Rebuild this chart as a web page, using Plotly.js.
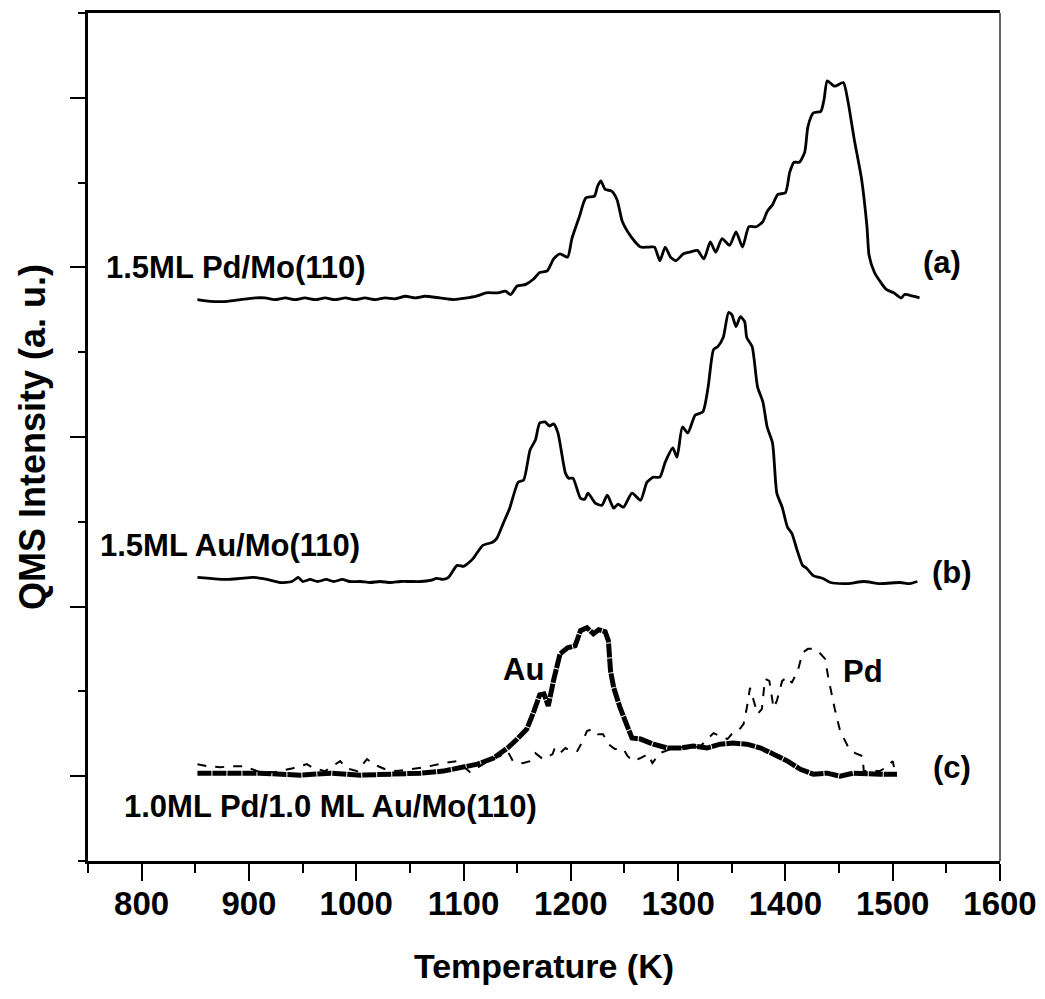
<!DOCTYPE html>
<html>
<head>
<meta charset="utf-8">
<script src="https://cdn.plot.ly/plotly-3.0.1.min.js"></script>
<style>html,body{margin:0;padding:0;background:#fff;}</style>
</head>
<body>
<div id="chart" style="width:1045px;height:999px;"></div>
<script>
// (a) 1.5ML Pd/Mo(110)
const tempA = [852,864,880,892,906,915,924,934,943,952,962,971,980,990,999,1008,1018,1027,1036,1046,1055,1064,1078,1091,1112,1121,1132,1139,1144,1150,1158,1165,1171,1178,1184,1190,1197,1201,1208,1214,1222,1225,1228,1232,1238,1243,1248,1253,1260,1265,1273,1278,1283,1288,1293,1298,1305,1311,1318,1324,1330,1335,1341,1348,1354,1360,1366,1373,1379,1383,1388,1393,1400,1404,1408,1413,1418,1421,1426,1433,1436,1439,1445,1447,1454,1458,1464,1471,1476,1478,1483,1488,1494,1501,1508,1511,1519,1525];
const intA = [2.81,2.80,2.80,2.81,2.82,2.82,2.81,2.82,2.81,2.82,2.81,2.82,2.81,2.82,2.81,2.82,2.81,2.82,2.815,2.83,2.82,2.83,2.82,2.81,2.83,2.85,2.85,2.86,2.84,2.89,2.90,2.93,2.97,2.98,3.05,3.08,3.06,3.17,3.30,3.41,3.42,3.48,3.51,3.46,3.45,3.40,3.27,3.21,3.15,3.12,3.12,3.12,3.04,3.12,3.06,3.04,3.08,3.09,3.10,3.05,3.15,3.09,3.17,3.13,3.21,3.12,3.24,3.24,3.27,3.33,3.37,3.43,3.44,3.56,3.62,3.62,3.68,3.83,3.91,3.92,3.99,4.10,4.07,4.07,4.09,3.99,3.76,3.52,3.24,3.07,2.97,2.92,2.87,2.85,2.82,2.84,2.83,2.82];

// (b) 1.5ML Au/Mo(110)
const tempB = [852,864,880,892,904,917,929,940,946,950,957,964,972,979,987,994,1004,1013,1022,1032,1041,1050,1060,1069,1075,1081,1086,1094,1100,1104,1109,1118,1127,1131,1137,1143,1151,1156,1162,1167,1171,1176,1180,1184,1188,1195,1198,1202,1209,1213,1216,1223,1229,1234,1240,1244,1249,1257,1265,1271,1277,1283,1288,1295,1299,1304,1309,1316,1323,1328,1333,1337,1342,1347,1350,1354,1358,1362,1364,1369,1374,1379,1383,1388,1392,1397,1402,1406,1411,1416,1420,1426,1435,1442,1458,1473,1488,1507,1516,1523];
const intB = [1.172,1.166,1.160,1.166,1.172,1.160,1.142,1.148,1.172,1.148,1.160,1.148,1.160,1.148,1.160,1.148,1.148,1.142,1.148,1.142,1.148,1.148,1.148,1.154,1.166,1.160,1.172,1.243,1.237,1.254,1.284,1.361,1.379,1.402,1.491,1.580,1.734,1.746,1.923,1.982,2.083,2.089,2.065,2.077,2.024,1.787,1.757,1.757,1.639,1.633,1.669,1.609,1.598,1.657,1.580,1.604,1.586,1.669,1.627,1.734,1.763,1.763,1.852,1.935,1.882,2.059,2.024,2.130,2.148,2.296,2.515,2.533,2.586,2.734,2.722,2.651,2.710,2.680,2.586,2.533,2.296,2.207,2.059,1.964,1.669,1.586,1.467,1.432,1.331,1.243,1.225,1.183,1.166,1.142,1.136,1.148,1.136,1.142,1.136,1.148];

// (c) 1.0ML Pd/1.0 ML Au/Mo(110): Au signal
const tempAu = [852,882,910,948,976,1004,1034,1060,1081,1097,1113,1128,1141,1150,1159,1165,1171,1175,1179,1184,1190,1197,1204,1209,1215,1221,1226,1232,1235,1237,1240,1246,1253,1257,1265,1277,1290,1302,1314,1327,1339,1351,1364,1377,1389,1402,1414,1426,1439,1451,1463,1476,1488,1504];
const intAu = [0.018,0.018,0.018,0.006,0.018,0.006,0.012,0.018,0.030,0.047,0.071,0.107,0.166,0.219,0.278,0.373,0.479,0.485,0.414,0.568,0.722,0.757,0.769,0.858,0.876,0.840,0.864,0.852,0.799,0.621,0.521,0.402,0.284,0.225,0.219,0.189,0.166,0.166,0.178,0.166,0.189,0.195,0.189,0.166,0.130,0.089,0.041,0.012,0.018,0.000,0.018,0.012,0.012,0.012];

// (c) Pd signal
const tempPd = [852,861,873,885,896,910,924,941,954,960,971,985,991,1001,1010,1016,1027,1038,1050,1064,1081,1094,1106,1115,1128,1134,1141,1146,1155,1162,1167,1174,1183,1185,1190,1195,1200,1206,1211,1215,1220,1225,1230,1235,1241,1249,1253,1258,1265,1272,1276,1283,1293,1302,1311,1321,1333,1339,1346,1350,1356,1361,1364,1367,1370,1374,1378,1381,1385,1389,1392,1397,1402,1406,1412,1416,1421,1426,1430,1433,1437,1440,1444,1446,1451,1459,1465,1472,1473,1479,1488,1494,1500,1502];
const intPd = [0.071,0.059,0.053,0.059,0.059,0.024,0.024,0.047,0.071,0.047,0.030,0.089,0.047,0.030,0.101,0.071,0.041,0.030,0.041,0.053,0.077,0.089,0.024,0.059,0.107,0.118,0.148,0.089,0.077,0.089,0.136,0.101,0.130,0.166,0.136,0.166,0.148,0.148,0.207,0.266,0.278,0.248,0.248,0.189,0.160,0.160,0.118,0.089,0.107,0.130,0.077,0.136,0.160,0.172,0.160,0.178,0.254,0.237,0.219,0.248,0.266,0.308,0.402,0.521,0.456,0.367,0.396,0.574,0.562,0.402,0.444,0.562,0.586,0.550,0.633,0.728,0.751,0.751,0.740,0.722,0.692,0.580,0.456,0.396,0.266,0.166,0.136,0.118,0.030,0.030,0.030,0.053,0.089,0.030];

const xTickVals = [800,900,1000,1100,1200,1300,1400,1500,1600];
const xTickText = ['800','900','1000','1100','1200','1300','1400','1500','1600'];
const yTickVals = [0,1,2,3,4];

const FONT = 'Liberation Sans, Arial, Helvetica, sans-serif';

const traces = [
  {x: tempA, y: intA, mode: 'lines', line: {color: '#000', width: 2.8, shape: 'spline', smoothing: 0.6}, hoverinfo: 'skip'},
  {x: tempB, y: intB, mode: 'lines', line: {color: '#000', width: 2.8, shape: 'spline', smoothing: 0.6}, hoverinfo: 'skip'},
  {x: tempAu, y: intAu, mode: 'lines', line: {color: '#000', width: 5, dash: '14px,1px'}, hoverinfo: 'skip'},
  {x: tempPd, y: intPd, mode: 'lines', line: {color: '#000', width: 2, dash: 'dash'}, hoverinfo: 'skip'}
];

function ann(text, x, y, xanchor, size) {
  return {text: text, x: x, y: y, xref: 'x', yref: 'y', xanchor: xanchor, yanchor: 'middle',
          showarrow: false, font: {family: FONT, size: size, color: '#000', weight: 'bold'}};
}

const layout = {
  width: 1045, height: 999,
  margin: {l: 88, r: 45, t: 13, b: 138},
  paper_bgcolor: '#fff', plot_bgcolor: '#fff',
  showlegend: false,
  font: {family: FONT, color: '#000'},
  xaxis: {
    range: [750, 1600], tickmode: 'array', tickvals: xTickVals, ticktext: xTickText,
    ticks: 'outside', ticklen: 17, tickwidth: 2, tickcolor: '#000',
    minor: {dtick: 50, tick0: 750, ticks: 'outside', ticklen: 9, tickwidth: 2, tickcolor: '#000', showgrid: false},
    showline: true, linewidth: 3, linecolor: '#000', mirror: true,
    showgrid: false, zeroline: false, ticklabelstandoff: -6,
    tickfont: {family: FONT, size: 33, weight: 'bold', color: '#000'},
    title: {text: 'Temperature (K)', font: {family: FONT, size: 34, weight: 'bold', color: '#000'}, standoff: 34}
  },
  yaxis: {
    range: [-0.5, 4.5], tickmode: 'array', tickvals: yTickVals, showticklabels: false,
    ticks: 'outside', ticklen: 15, tickwidth: 2, tickcolor: '#000',
    minor: {dtick: 0.5, tick0: 0, ticks: 'outside', ticklen: 7, tickwidth: 2, tickcolor: '#000', showgrid: false},
    showline: true, linewidth: 3, linecolor: '#000', mirror: false,
    showgrid: false, zeroline: false,
    title: {text: 'QMS Intensity (a. u.)', font: {family: FONT, size: 36, weight: 'bold', color: '#000'}, standoff: 14}
  },
  shapes: [
    {type: 'line', xref: 'paper', yref: 'paper', x0: 1, x1: 1, y0: 0, y1: 1, line: {color: '#333', width: 1.5}}
  ],
  annotations: [
    ann('1.5ML Pd/Mo(110)', 765, 3.00, 'left', 31),
    ann('(a)', 1546, 3.03, 'center', 31),
    ann('1.5ML Au/Mo(110)', 759, 1.36, 'left', 31),
    ann('(b)', 1555, 1.20, 'center', 31),
    ann('Au', 1156, 0.63, 'center', 31),
    ann('Pd', 1472, 0.62, 'center', 31),
    ann('(c)', 1555, 0.05, 'center', 31),
    ann('1.0ML Pd/1.0 ML Au/Mo(110)', 782, -0.18, 'left', 31)
  ]
};

Plotly.newPlot('chart', traces, layout, {displayModeBar: false, staticPlot: true});
</script>
</body>
</html>
